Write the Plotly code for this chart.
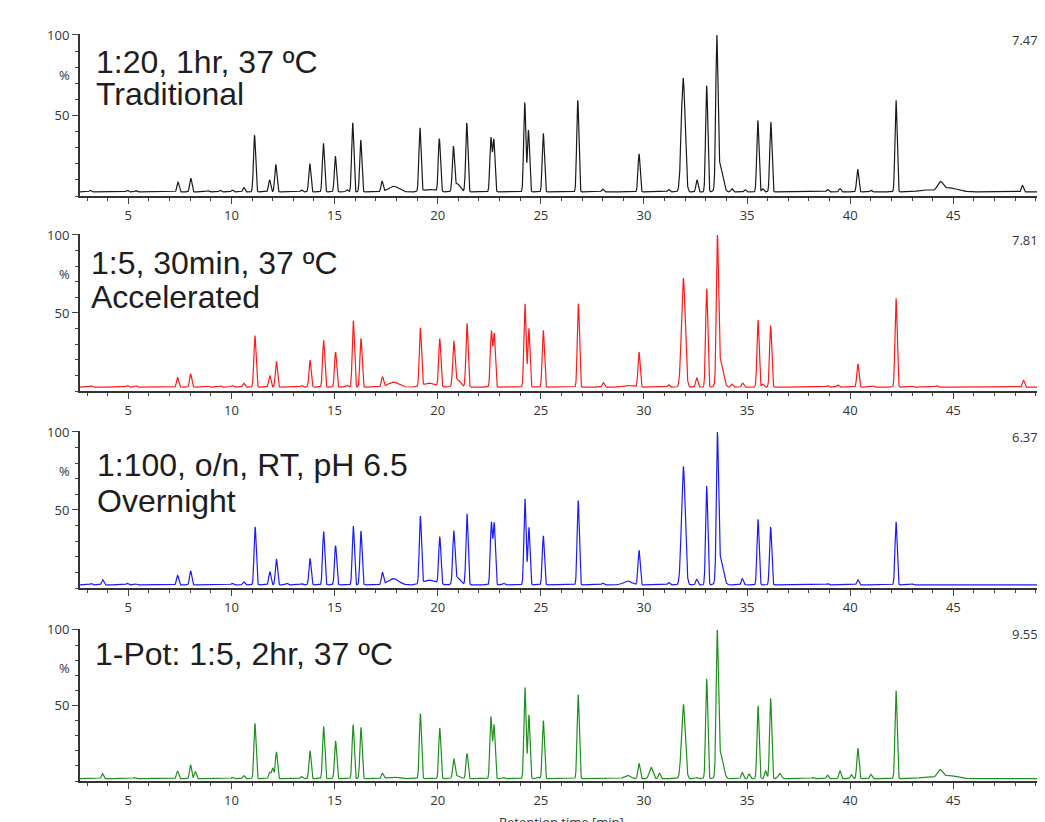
import numpy as np
import plotly.graph_objects as go

# ---------------- data (retention time [min], peak height [% above baseline]) --------------
panel_titles = [["1:20, 1hr, 37 ºC", "Traditional"],
                ["1:5, 30min, 37 ºC", "Accelerated"],
                ["1:100, o/n, RT, pH 6.5", "Overnight"],
                ["1-Pot: 1:5, 2hr, 37 ºC"]]
intensity_labels = ["7.47e6", "7.81e6", "6.37e6", "9.55e6"]
x_ticks = [5, 10, 15, 20, 25, 30, 35, 40, 45]
y_ticks = [50, 100]
baselines = [2.5, 2.5, 2.0, 1.5]

# Traditional
trad_rt = [3.15, 4.95, 5.36, 7.41, 8.03, 8.85, 9.45, 10.04, 10.6, 11.12, 11.85, 12.15, 13.4, 13.8, 14.46,
           15.04, 15.6, 15.88, 16.27, 17.3, 19.14, 20.08, 20.76, 21.41, 22.58, 22.72, 24.22, 24.40, 25.12,
           26.79, 28.0, 29.76, 31.2, 32.57, 33.04, 33.53, 34.26, 34.9, 35.52, 35.76, 36.15, 38.9, 39.5,
           40.36, 41.0, 42.22, 48.35]
trad_h = [1, 1, 0.8, 6, 8.5, 0.8, 1, 1.2, 2.8, 35, 7.5, 17, 1.2, 17.5, 30,
          22, 1.5, 42.5, 32, 6.5, 39, 32.5, 26, 42.5, 33, 32, 55, 38, 36,
          56.5, 1.8, 23.5, 1.5, 7.5, 65.5, 88, 2, 1.5, 44, 2, 43, 1.5, 2,
          14, 1, 56.5, 4]
trad_wide_rt = [17.86, 19.6, 20.95, 31.9, 33.68, 43.6, 44.36, 44.8]
trad_wide_h = [3.5, 1.5, 5, 70, 17, 1.2, 5, 2.5]
trad_wide_w = [0.25, 0.3, 0.15, 0.09, 0.13, 0.3, 0.13, 0.4]

# Accelerated
acc_rt = [3.2, 4.95, 5.36, 7.39, 8.02, 8.85, 9.45, 10.04, 10.6, 11.14, 11.86, 12.18, 13.4, 13.81, 14.47,
          15.05, 15.6, 15.91, 16.28, 17.32, 19.16, 20.1, 20.78, 21.42, 22.6, 22.74, 24.23, 24.42, 25.12,
          26.82, 28.03, 29.76, 31.2, 32.56, 33.04, 33.56, 34.26, 34.79, 35.53, 35.76, 36.14, 38.9, 39.4,
          40.37, 41.1, 42.22, 43.0, 44.2, 48.4]
acc_h = [0.8, 1, 0.8, 6, 8.5, 0.6, 0.8, 1, 2.5, 33, 7.4, 16.5, 1, 17.3, 30,
         22.5, 1.2, 42.7, 31.3, 6.4, 37.2, 30.5, 27, 41, 35.5, 34, 53.5, 37.6, 36.4,
         53.5, 3, 22.5, 1.5, 6, 63, 88, 2, 2.5, 43, 2, 39.5, 1, 1.5,
         15, 0.8, 57, 0.6, 0.8, 4.3]
acc_wide_rt = [17.85, 19.6, 20.95, 29.2, 31.91, 33.7]
acc_wide_h = [3.2, 2.5, 5, 1, 69.7, 17]
acc_wide_w = [0.25, 0.3, 0.15, 0.2, 0.09, 0.13]

# Overnight
on_rt = [3.2, 3.76, 4.95, 5.36, 7.39, 8.02, 10.04, 10.6, 11.15, 11.86, 12.18, 12.68, 13.4, 13.81, 14.47,
         15.05, 15.91, 16.28, 17.32, 19.16, 20.1, 20.78, 21.42, 22.6, 22.74, 23.2, 24.23, 24.42, 25.12,
         26.81, 28.0, 29.76, 31.2, 32.56, 33.04, 33.56, 34.77, 35.53, 36.14, 38.9, 40.37, 42.22, 43.0]
on_h = [0.8, 3.3, 1, 0.6, 6, 9, 1, 2, 37, 8.5, 16.5, 1, 0.8, 17, 34,
        25, 37.5, 34.4, 7.7, 43, 30, 32, 45.4, 39.5, 39, 1, 55, 36.7, 31.3,
        53.8, 1.2, 22, 1.5, 3.5, 63, 88, 3.9, 41.8, 37, 0.8, 3.3, 40.3, 0.6]
on_wide_rt = [17.85, 19.6, 20.95, 29.2, 31.91, 33.7]
on_wide_h = [4, 3, 5, 2.5, 75.5, 17]
on_wide_w = [0.25, 0.3, 0.15, 0.2, 0.09, 0.13]

# 1-Pot
pot_rt = [3.75, 5.3, 7.39, 8.02, 8.25, 10.05, 10.6, 11.14, 11.86, 12.0, 12.18, 13.4, 13.81, 14.47,
          15.05, 15.9, 16.28, 17.32, 19.16, 20.1, 20.78, 21.42, 22.58, 22.73, 23.2, 24.23, 24.42, 24.85,
          25.12, 26.81, 29.76, 30.75, 32.56, 33.04, 33.55, 34.77, 35.1, 35.53, 35.9, 36.14, 38.2, 38.9,
          39.5, 40.05, 40.37, 41.0, 42.22]
pot_h = [3.2, 0.8, 5, 9, 4.5, 1, 2, 36, 4, 7, 17.5, 1.5, 18.2, 34,
         24.7, 35.2, 33.5, 3.3, 42.4, 33, 12, 16.5, 40, 35, 0.8, 59.5, 41.5, 1,
         37.8, 54.8, 9.9, 3.6, 0.8, 65, 88, 4, 3, 47.5, 5, 52.5, 0.8, 2.3,
         5.3, 2.6, 19.9, 2.9, 57.5]
pot_wide_rt = [17.8, 20.95, 29.2, 30.35, 31.91, 33.7, 36.58, 43.7, 44.35, 44.8]
pot_wide_h = [1.2, 2, 2.2, 7.3, 48.3, 17, 3.5, 1, 4.8, 2]
pot_wide_w = [0.25, 0.15, 0.15, 0.09, 0.09, 0.13, 0.08, 0.3, 0.12, 0.4]

# ---------------- build traces ----------------
t = np.linspace(2.6, 49.3, 6000)
SIG = 0.05


def chromatogram(rt, h, wrt, wh, ww, base):
    y = np.full_like(t, base)
    for r, a in zip(rt, h):
        y += a * np.exp(-0.5 * ((t - r) / SIG) ** 2)
    for r, a, w in zip(wrt, wh, ww):
        y += a * np.exp(-0.5 * ((t - r) / w) ** 2)
    return y / y.max() * 100.0


series = [
    chromatogram(trad_rt, trad_h, trad_wide_rt, trad_wide_h, trad_wide_w, baselines[0]),
    chromatogram(acc_rt, acc_h, acc_wide_rt, acc_wide_h, acc_wide_w, baselines[1]),
    chromatogram(on_rt, on_h, on_wide_rt, on_wide_h, on_wide_w, baselines[2]),
    chromatogram(pot_rt, pot_h, pot_wide_rt, pot_wide_h, pot_wide_w, baselines[3]),
]
colors = ["#1a1a1a", "#ff1a1a", "#1a1aff", "#1f8f1f"]

# ---------------- layout geometry ----------------
# page body has an 8px default margin: figure coords = screen coords - 8
OFF = 8
W, H = 1045, 822
ML, MT = 80 - OFF, 34 - OFF
PLOT_R, PLOT_B = 1040 - OFF, 781 - OFF
MR, MB = W - PLOT_R, H - PLOT_B
PW, PH = PLOT_R - ML, PLOT_B - MT
panel_px = [(34, 196), (234, 391), (431, 588), (629, 781)]   # screen pixels (top, bottom)


def py(ys):
    return (PLOT_B - (ys - OFF)) / PH


def px(xs):
    return (xs - OFF - ML) / PW


fig = go.Figure()
layout = dict(width=W, height=H, margin=dict(l=ML, r=MR, t=MT, b=MB),
              plot_bgcolor="white", paper_bgcolor="white", showlegend=False)
tickfont = dict(family="Open Sans, DejaVu Sans, sans-serif", size=13, color="#333333")
annotations = []

for i in range(4):
    sfx = "" if i == 0 else str(i + 1)
    fig.add_trace(go.Scatter(x=t, y=series[i], mode="lines",
                             line=dict(color=colors[i], width=1.2),
                             xaxis="x" + sfx, yaxis="y" + sfx, hoverinfo="skip"))
    top, bot = panel_px[i]
    layout["xaxis" + sfx] = dict(domain=[0, 1], anchor="y" + sfx, range=[2.66, 49.2],
                                 tickvals=x_ticks, ticks="outside", ticklen=6, tickwidth=1,
                                 tickcolor="#444", showline=True, linecolor="#333", linewidth=2,
                                 showgrid=False, zeroline=False, tickfont=tickfont,
                                 minor=dict(dtick=1, tick0=0, ticks="outside", ticklen=3,
                                            tickcolor="#444", showgrid=False))
    layout["yaxis" + sfx] = dict(domain=[py(bot), py(top)], anchor="x" + sfx, range=[0, 100.6],
                                 tickvals=y_ticks, ticks="outside", ticklen=6, tickwidth=1,
                                 tickcolor="#444", showline=True, linecolor="#333", linewidth=2,
                                 showgrid=False, zeroline=False, tickfont=tickfont,
                                 minor=dict(dtick=10, tick0=0, ticks="outside", ticklen=3,
                                            tickcolor="#444", showgrid=False))
    annotations.append(dict(text="%", xref="paper", yref="y" + sfx, x=px(64), y=75,
                            xanchor="center", yanchor="middle", showarrow=False, font=tickfont))
    annotations.append(dict(text=intensity_labels[i], xref="paper", yref="y" + sfx, x=px(1010), y=97,
                            xanchor="left", yanchor="middle", showarrow=False, font=tickfont))

title_pos = [[(94, 61.5), (94, 93.7)], [(89, 263), (89, 297)], [(95, 465), (95, 501)], [(93, 654)]]
for i in range(4):
    for line, (xx, yy) in zip(panel_titles[i], title_pos[i]):
        annotations.append(dict(text=line, xref="paper", yref="paper", x=px(xx), y=py(yy),
                                xanchor="left", yanchor="middle", showarrow=False,
                                font=dict(family="Liberation Sans, Arial, sans-serif", size=32,
                                          color="#1e1e1e")))

annotations.append(dict(text="Retention time [min]", xref="paper", yref="paper", x=px(561), y=py(811),
                        xanchor="center", yanchor="top", showarrow=False, font=tickfont))
layout["annotations"] = annotations
fig.update_layout(**layout)
fig.write_html("out.html")
